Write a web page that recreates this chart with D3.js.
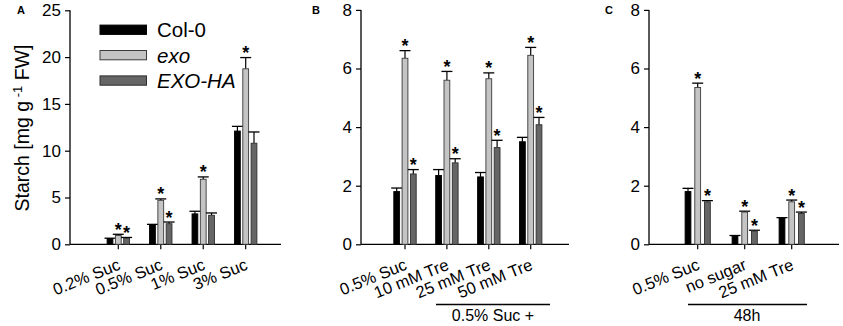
<!DOCTYPE html>
<html>
<head>
<meta charset="utf-8">
<script src="https://cdn.jsdelivr.net/npm/d3@7"></script>
<style>
  html, body { margin: 0; padding: 0; background: #fff; }
  svg { display: block; }
  text { font-family: Arial, "Liberation Sans", sans-serif; fill: #000; }
</style>
</head>
<body>
<svg id="chart" width="843" height="326"></svg>
<script>
// ---------- DATA ----------
const series = ["Col-0", "exo", "EXO-HA"];

const catsA = ["0.2% Suc", "0.5% Suc", "1% Suc", "3% Suc"];
const col0A = [0.6, 2.1, 3.25, 12.1];
const col0ErrA = [0.05, 0.03, 0.28, 0.5];
const exoA = [0.95, 4.7, 6.95, 18.75];
const exoErrA = [0.12, 0.15, 0.25, 1.2];
const exoHaA = [0.65, 2.2, 3.1, 10.8];
const exoHaErrA = [0.08, 0.18, 0.25, 1.2];
const exoSigA = [1, 1, 1, 1];
const exoHaSigA = [1, 1, 0, 0];
const ticksA = [0, 5, 10, 15, 20, 25];

const catsB = ["0.5% Suc", "10 mM Tre", "25 mM Tre", "50 mM Tre"];
const col0B = [1.8, 2.35, 2.3, 3.5];
const col0ErrB = [0.12, 0.2, 0.15, 0.15];
const exoB = [6.35, 5.6, 5.65, 6.45];
const exoErrB = [0.26, 0.3, 0.2, 0.27];
const exoHaB = [2.4, 2.78, 3.3, 4.08];
const exoHaErrB = [0.15, 0.14, 0.25, 0.25];
const exoSigB = [1, 1, 1, 1];
const exoHaSigB = [1, 1, 1, 1];
const ticksB = [0, 2, 4, 6, 8];

const catsC = ["0.5% Suc", "no sugar", "25 mM Tre"];
const col0C = [1.8, 0.28, 0.88];
const col0ErrC = [0.11, 0.02, 0.03];
const exoC = [5.35, 1.1, 1.45];
const exoErrC = [0.15, 0.03, 0.06];
const exoHaC = [1.45, 0.45, 1.05];
const exoHaErrC = [0.04, 0.03, 0.05];
const exoSigC = [1, 1, 1];
const exoHaSigC = [1, 1, 1];
const ticksC = [0, 2, 4, 6, 8];

const panelLetters = ["A", "B", "C"];
const yTitle = "Starch [mg g";
const groupLabelB = "0.5% Suc +";
const groupLabelC = "48h";

// ---------- STYLE ----------
const fills = { "Col-0": "#000000", "exo": "#c4c4c4", "EXO-HA": "#666666" };
const strokes = { "Col-0": "#000000", "exo": "#3a3a3a", "EXO-HA": "#2e2e2e" };

const svg = d3.select("#chart");

function buildRows(cats, vals, errs, sigs) {
  return cats.map((c, i) => ({
    cat: c,
    bars: series.map((s, k) => ({ s, v: vals[k][i], e: errs[k][i], sig: sigs[k] ? sigs[k][i] : 0 }))
  }));
}

function drawPanel(cfg) {
  const g = svg.append("g");
  const y = d3.scaleLinear().domain([0, cfg.ymax]).range([244.3, cfg.ytop]);
  const x = d3.scalePoint().domain(cfg.cats).range(cfg.xr);
  const xs = d3.scalePoint().domain(series).range([-cfg.bstep, cfg.bstep]);
  const bw = 5.8;

  // Y axis
  const yAxis = d3.axisLeft(y).tickValues(cfg.ticks).tickSize(5).tickPadding(4).tickFormat(d3.format("d"));
  const ya = g.append("g").attr("transform", `translate(${cfg.ax},0)`).call(yAxis);
  ya.select(".domain").remove();
  ya.selectAll(".tick line").attr("stroke", "#000").attr("stroke-width", 1.2);
  ya.selectAll(".tick text").style("font-size", "17px").attr("fill", "#000")
    .style("font-family", "Arial, 'Liberation Sans', sans-serif");
  g.append("line").attr("x1", cfg.ax).attr("x2", cfg.ax)
    .attr("y1", y(cfg.ymax)).attr("y2", y(0)).attr("stroke", "#000").attr("stroke-width", 1.3);

  // X axis line
  g.append("line").attr("x1", cfg.ax).attr("x2", cfg.xend)
    .attr("y1", y(0)).attr("y2", y(0)).attr("stroke", "#000").attr("stroke-width", 1.3);

  // category ticks
  g.selectAll(".ctick").data(cfg.cats).join("line")
    .attr("x1", d => x(d)).attr("x2", d => x(d))
    .attr("y1", y(0)).attr("y2", y(0) + 5)
    .attr("stroke", "#000").attr("stroke-width", 1.2);

  // bars
  const rows = buildRows(cfg.cats, cfg.vals, cfg.errs, cfg.sigs);
  series.forEach(s => {
    const data = rows.map(r => ({ cat: r.cat, ...r.bars.find(b => b.s === s) }));
    const sg = g.append("g");
    data.forEach(d => {
      const cx = x(d.cat) + xs(s);
      const top = y(d.v), etop = y(d.v + d.e);
      sg.append("line").attr("x1", cx).attr("x2", cx).attr("y1", top).attr("y2", etop)
        .attr("stroke", "#000").attr("stroke-width", 1.2);
      sg.append("line").attr("x1", cx - 5.5).attr("x2", cx + 5.5).attr("y1", etop).attr("y2", etop)
        .attr("stroke", "#000").attr("stroke-width", 1.3);
      sg.append("rect").attr("x", cx - bw / 2).attr("y", top)
        .attr("width", bw).attr("height", y(0) - top)
        .attr("fill", fills[s]).attr("stroke", strokes[s]).attr("stroke-width", 0.9);
      if (d.sig) {
        sg.append("text").attr("x", cx).attr("y", etop + 1.5)
          .attr("text-anchor", "middle").style("font-size", "18px").style("font-weight", "bold")
          .text("*");
      }
    });
  });

  // category labels
  g.selectAll(".clab").data(cfg.cats).join("text")
    .attr("transform", d => `translate(${x(d) + 3},${269}) rotate(-22)`)
    .attr("text-anchor", "end").style("font-size", "16.5px").text(d => d);

  // panel letter
  g.append("text").attr("x", cfg.lx).attr("y", 14).style("font-size", "11px")
    .style("font-weight", "bold").text(cfg.letter);

  return { g, x, y };
}

drawPanel({
  letter: panelLetters[0], lx: 17, ax: 70, xend: 281, ymax: 25, ytop: 10.3, ticks: ticksA,
  cats: catsA, xr: [118.3, 245.7], bstep: 8.3,
  vals: [col0A, exoA, exoHaA], errs: [col0ErrA, exoErrA, exoHaErrA], sigs: [null, exoSigA, exoHaSigA]
});
drawPanel({
  letter: panelLetters[1], lx: 312, ax: 361, xend: 569, ymax: 8, ytop: 9.9, ticks: ticksB,
  cats: catsB, xr: [405, 530.7], bstep: 8.3,
  vals: [col0B, exoB, exoHaB], errs: [col0ErrB, exoErrB, exoHaErrB], sigs: [null, exoSigB, exoHaSigB]
});
drawPanel({
  letter: panelLetters[2], lx: 605, ax: 649, xend: 839, ymax: 8, ytop: 9.9, ticks: ticksC,
  cats: catsC, xr: [697.7, 791.7], bstep: 9.7,
  vals: [col0C, exoC, exoHaC], errs: [col0ErrC, exoErrC, exoHaErrC], sigs: [null, exoSigC, exoHaSigC]
});

// Y axis title
const yt = svg.append("text")
  .attr("transform", "translate(29,128) rotate(-90)")
  .attr("text-anchor", "middle").style("font-size", "19.5px");
yt.append("tspan").text(yTitle);
yt.append("tspan").attr("dy", -7).style("font-size", "13px").text(" -1");
yt.append("tspan").attr("dy", 7).text(" FW]");

// Legend
const legend = svg.append("g");
series.forEach((s, i) => {
  const cy = 29.7 + i * 25.4;
  legend.append("rect").attr("x", 100).attr("y", cy - 4.6).attr("width", 46.5).attr("height", 9.3)
    .attr("fill", fills[s]).attr("stroke", strokes[s]).attr("stroke-width", 1);
  legend.append("text").attr("x", 157).attr("y", cy + 7.5).style("font-size", "20.5px")
    .style("font-style", i === 0 ? "normal" : "italic").text(s);
});

// group annotations
svg.append("line").attr("x1", 436).attr("x2", 550).attr("y1", 304.5).attr("y2", 304.5)
  .attr("stroke", "#000").attr("stroke-width", 1.4);
svg.append("text").attr("x", 493).attr("y", 320.5).attr("text-anchor", "middle")
  .style("font-size", "16px").text(groupLabelB);
svg.append("line").attr("x1", 688).attr("x2", 807).attr("y1", 304.5).attr("y2", 304.5)
  .attr("stroke", "#000").attr("stroke-width", 1.4);
svg.append("text").attr("x", 747).attr("y", 320.5).attr("text-anchor", "middle")
  .style("font-size", "16px").text(groupLabelC);
</script>
</body>
</html>
